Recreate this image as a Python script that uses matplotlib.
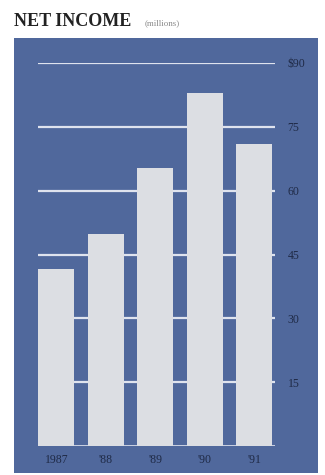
import matplotlib
matplotlib.use("Agg")
import matplotlib.pyplot as plt
from matplotlib.patches import Rectangle

# data (millions)
years = ["1987", "'88", "'89", "'90", "'91"]
income = [41.7, 49.9, 65.4, 83.0, 71.0]
yticks = [15, 30, 45, 60, 75, 90]
ytick_labels = ["15", "30", "45", "60", "75", "$90"]

W, H = 325, 475
fig = plt.figure(figsize=(W / 100, H / 100), dpi=100)
fig.patch.set_facecolor("white")

def fx(px):
    return px / W

def fy(py):
    return 1 - py / H

# blue panel behind the chart
fig.patches.append(Rectangle((fx(14), fy(473)), fx(318) - fx(14), fy(38) - fy(473),
                             transform=fig.transFigure, facecolor="#50689c",
                             edgecolor="none", zorder=0))

# title
fig.text(fx(14), fy(22), "NET INCOME", family="Liberation Serif", fontsize=13,
         weight="bold", color="#222222", va="center", ha="left")
fig.text(fx(145), fy(23), "(millions)", family="Liberation Serif", fontsize=6.5,
         color="#8a8a8a", va="center", ha="left")

# axes: x 38..275 px, y 63 (90) .. 446 (0)
ax = fig.add_axes([fx(38), fy(446), fx(275) - fx(38), fy(63) - fy(446)])
ax.set_zorder(2)
ax.set_facecolor("none")
x = range(len(years))
ax.set_xlim(-0.37, 4.42)
ax.set_ylim(0, 90)

for t in yticks:
    ax.axhline(t, color="#dfe3ee", lw=1.6, zorder=1)
ax.axhline(0, color="#dfe3ee", lw=1.2, zorder=1)

ax.bar(x, income, width=0.73, color="#dcdee3", zorder=2)

for s in ax.spines.values():
    s.set_visible(False)
ax.yaxis.tick_right()
ax.set_yticks(yticks)
ax.set_yticklabels(ytick_labels, family="Liberation Serif", fontsize=8.5, color="#1f2a46")
ax.tick_params(axis="y", length=0, pad=9)
ax.set_xticks(list(x))
ax.set_xticklabels(years, family="Liberation Serif", fontsize=8.5, color="#1f2a46")
ax.tick_params(axis="x", length=0, pad=6)

fig.savefig("out.png", dpi=100)
